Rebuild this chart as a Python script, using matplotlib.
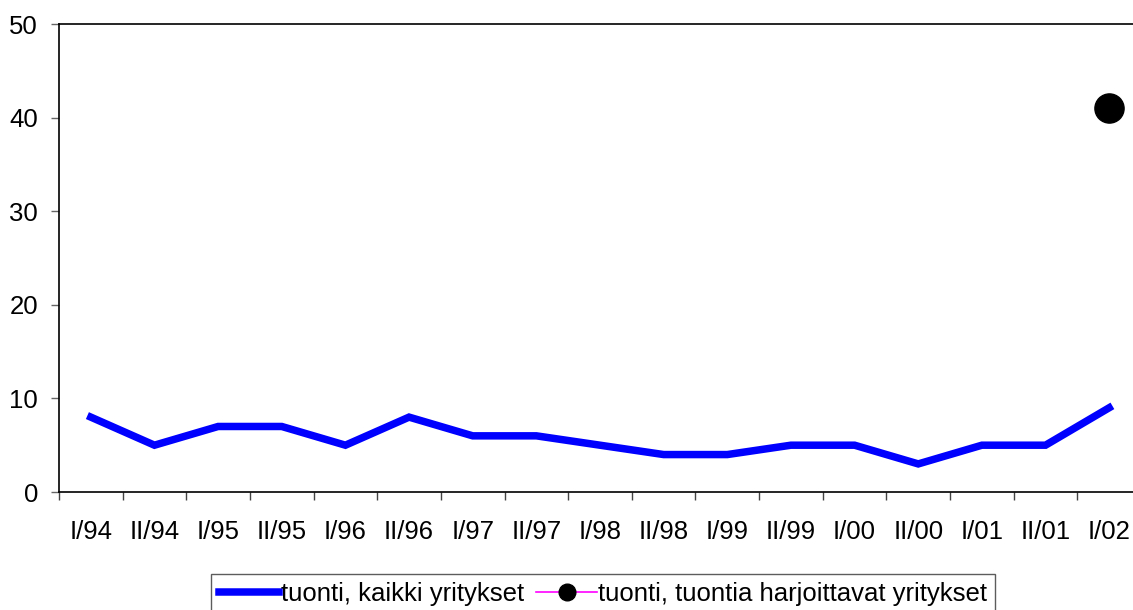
import matplotlib
matplotlib.use("Agg")
import matplotlib.pyplot as plt
from matplotlib.lines import Line2D
import numpy as np

categories = ["I/94", "II/94", "I/95", "II/95", "I/96", "II/96", "I/97", "II/97",
              "I/98", "II/98", "I/99", "II/99", "I/00", "II/00", "I/01", "II/01", "I/02"]
kaikki = [8, 5, 7, 7, 5, 8, 6, 6, 5, 4, 4, 5, 5, 3, 5, 5, 9]
harjoittavat = [np.nan] * 16 + [41]
label1 = "tuonti, kaikki yritykset"
label2 = "tuonti, tuontia harjoittavat yritykset"

plt.rcParams['font.family'] = ['Liberation Sans', 'DejaVu Sans']
FS = 18.5

W, H = 1133, 610
fig = plt.figure(figsize=(W / 100, H / 100), dpi=100)
left, right, top, bottom = 59, 1141, 24, 492
ax = fig.add_axes([left / W, 1 - bottom / H, (right - left) / W, (bottom - top) / H])

x = np.arange(len(categories))
ax.plot(x, kaikki, color="#0000FF", lw=5.4, solid_joinstyle="miter", label=label1)
ax.plot(x, harjoittavat, color="#FF00FF", lw=1.2, marker="o", markersize=21,
        markerfacecolor="black", markeredgecolor="black", label=label2)

ax.set_xlim(-0.5, len(categories) - 0.5)
ax.set_ylim(0, 50)
ax.set_yticks([0, 10, 20, 30, 40, 50])
ax.set_xticks(np.arange(len(categories) + 1) - 0.5, minor=False)
ax.set_xticklabels([])
ax.set_xticks(x, minor=True)
ax.set_xticklabels(categories, minor=True)
ax.tick_params(axis="x", which="major", length=6, width=1, color="#444444", direction="out")
ax.tick_params(axis="x", which="minor", length=0, labelsize=FS, pad=20)
ax.tick_params(axis="y", length=6, width=1, color="#666666", direction="out", labelsize=FS, pad=9)

for s in ["left", "bottom", "top"]:
    ax.spines[s].set_linewidth(1.2)
    ax.spines[s].set_color("black")
ax.spines["right"].set_visible(False)

h1 = Line2D([], [], color="#0000FF", lw=5.4)
h2 = Line2D([], [], color="#FF00FF", lw=1.2, marker="o", markersize=12,
            markerfacecolor="black", markeredgecolor="black")
leg = fig.legend([h1, h2], [label1, label2], loc="upper center", bbox_to_anchor=(603 / W, 1 - 574 / H),
                 ncol=2, fontsize=FS, frameon=True, fancybox=False, edgecolor="#333333",
                 handlelength=2.35, handletextpad=0.05, columnspacing=0.5, borderpad=0.3,
                 borderaxespad=0)
leg.get_frame().set_linewidth(1.0)

fig.savefig("out.png", dpi=100)
